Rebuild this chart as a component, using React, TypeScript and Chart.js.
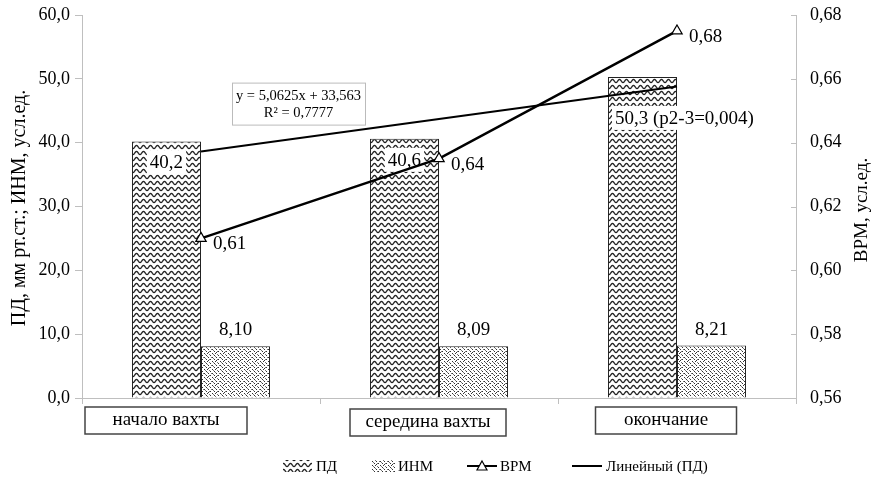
import React, { useEffect, useRef } from 'react';
import { Chart, registerables } from 'chart.js';
Chart.register(...registerables);

const categories = ['начало вахты', 'середина вахты', 'окончание'];
const pdValues = [40.2, 40.6, 50.3];
const inmValues = [8.1, 8.09, 8.21];
const vrmValues = [0.61, 0.635, 0.675];
const trendValues = [38.6, 43.7, 48.8];
const pdLabels = ['40,2', '40,6', '50,3 (p2-3=0,004)'];
const inmLabels = ['8,10', '8,09', '8,21'];
const vrmLabels = ['0,61', '0,64', '0,68'];
const trendEquation = ['y = 5,0625x + 33,563', 'R² = 0,7777'];
const legendNames = ['ПД', 'ИНМ', 'ВРМ', 'Линейный (ПД)'];
const leftTitle = 'ПД, мм рт.ст.; ИНМ, усл.ед.';
const rightTitle = 'ВРМ, усл.ед.';

const FONT = '"Liberation Serif", serif';
const BASE = 15;

function makeWave(): CanvasPattern | string {
  const c = document.createElement('canvas');
  c.width = 7; c.height = 6;
  const g = c.getContext('2d');
  if (!g) return '#888';
  g.fillStyle = '#fff';
  g.fillRect(0, 0, 7, 6);
  g.strokeStyle = '#222';
  g.lineWidth = 1.3;
  g.beginPath();
  for (let x = -1; x <= 8; x += 0.5) {
    const y = 3 + 1.6 * Math.cos((2 * Math.PI * x) / 7);
    if (x === -1) g.moveTo(x, y); else g.lineTo(x, y);
  }
  g.stroke();
  return g.createPattern(c, 'repeat') || '#888';
}

function makeDots(): CanvasPattern | string {
  const c = document.createElement('canvas');
  c.width = 8; c.height = 8;
  const g = c.getContext('2d');
  if (!g) return '#ccc';
  g.fillStyle = '#fff';
  g.fillRect(0, 0, 8, 8);
  g.fillStyle = '#333';
  const pts = [[0, 0], [4, 1], [2, 3], [6, 3], [0, 5], [4, 5], [2, 7], [6, 7], [7, 1]];
  pts.forEach(([x, y]) => g.fillRect(x, y, 1, 1));
  g.fillStyle = '#777';
  [[1, 2], [5, 6], [3, 5], [7, 4], [1, 7], [5, 2]].forEach(([x, y]) => g.fillRect(x, y, 1, 1));
  return g.createPattern(c, 'repeat') || '#ccc';
}

// draws serif text at any size by scaling a base-size font
function txt(ctx: CanvasRenderingContext2D, text: string, x: number, y: number, size: number,
  align: CanvasTextAlign = 'left', rot = 0) {
  ctx.save();
  ctx.translate(x, y);
  if (rot) ctx.rotate(rot);
  const k = size / BASE;
  ctx.scale(k, k);
  ctx.font = `${BASE}px ${FONT}`;
  ctx.textAlign = align;
  ctx.textBaseline = 'middle';
  ctx.fillStyle = '#000';
  ctx.fillText(text, 0, 0);
  ctx.restore();
}
function txtWidth(ctx: CanvasRenderingContext2D, text: string, size: number) {
  ctx.save();
  ctx.font = `${BASE}px ${FONT}`;
  const w = ctx.measureText(text).width * size / BASE;
  ctx.restore();
  return w;
}

export default function App() {
  const ref = useRef<HTMLCanvasElement | null>(null);

  useEffect(() => {
    document.body.style.margin = '0';
    const canvas = ref.current;
    if (!canvas) return;
    const wave = makeWave();
    const dots = makeDots();

    const whiteLabel = (ctx: CanvasRenderingContext2D, text: string, x: number, y: number, align: CanvasTextAlign) => {
      const w = txtWidth(ctx, text, 19);
      const left = align === 'center' ? x - w / 2 : x;
      ctx.fillStyle = '#fff';
      ctx.fillRect(left - 3, y - 12, w + 6, 24);
      txt(ctx, text, x, y + 1, 19, align);
    };

    const plugin = {
      id: 'custom',
      afterDatasetDraw(chart: any, args: any) {
        if (args.index !== 0) return;
        const ctx: CanvasRenderingContext2D = chart.ctx;
        const pd = chart.getDatasetMeta(0).data;
        pd.forEach((bar: any, i: number) => {
          if (i < 2) whiteLabel(ctx, pdLabels[i], bar.x, bar.y + 21, 'center');
          else whiteLabel(ctx, pdLabels[i], bar.x - bar.width / 2 + 7, bar.y + 41, 'left');
        });
        const inm = chart.getDatasetMeta(1).data;
        inm.forEach((bar: any, i: number) => {
          txt(ctx, inmLabels[i], bar.x, bar.y - 16, 19, 'center');
        });
      },
      afterDatasetsDraw(chart: any) {
        const ctx: CanvasRenderingContext2D = chart.ctx;
        const vrm = chart.getDatasetMeta(2).data;
        vrm.forEach((pt: any, i: number) => {
          txt(ctx, vrmLabels[i], pt.x + 12, pt.y + 6, 19, 'left');
        });
        const t0 = chart.getDatasetMeta(3).data[0];
        const bx = t0.x + 31, by = t0.y - 69, bw = 133, bh = 42;
        ctx.save();
        ctx.fillStyle = '#fff';
        ctx.fillRect(bx, by, bw, bh);
        ctx.strokeStyle = '#bbb';
        ctx.lineWidth = 1;
        ctx.strokeRect(bx + 0.5, by + 0.5, bw, bh);
        ctx.restore();
        txt(ctx, trendEquation[0], bx + bw / 2, by + 14, 14.5, 'center');
        txt(ctx, trendEquation[1], bx + bw / 2, by + 31, 14.5, 'center');
      },
      afterDraw(chart: any) {
        const ctx: CanvasRenderingContext2D = chart.ctx;
        const ca = chart.chartArea;
        const xs = chart.scales.x;
        const yl = chart.scales.y;
        const yr = chart.scales.y1;
        ctx.save();
        ctx.strokeStyle = '#bfbfbf';
        ctx.lineWidth = 1;
        yr.ticks.forEach((t: any) => {
          const y = Math.round(yr.getPixelForValue(t.value)) + 0.5;
          ctx.beginPath();
          ctx.moveTo(ca.right - 5, y);
          ctx.lineTo(ca.right, y);
          ctx.stroke();
        });
        ctx.restore();
        // tick labels
        yl.ticks.forEach((t: any) => {
          txt(ctx, Number(t.value).toFixed(1).replace('.', ','), ca.left - 12, yl.getPixelForValue(t.value), 18, 'right');
        });
        yr.ticks.forEach((t: any) => {
          txt(ctx, Number(t.value).toFixed(2).replace('.', ','), ca.right + 14, yr.getPixelForValue(t.value), 18, 'left');
        });
        // category boxes
        const geo = [{ dx: -35, w: 162, top: 407 }, { dx: -11, w: 156, top: 409 }, { dx: -11, w: 141, top: 407 }];
        categories.forEach((c, i) => {
          const cx = xs.getPixelForValue(i) + geo[i].dx;
          const top = geo[i].top;
          ctx.save();
          ctx.fillStyle = '#fff';
          ctx.fillRect(cx - geo[i].w / 2, top, geo[i].w, 27);
          ctx.strokeStyle = '#444';
          ctx.lineWidth = 1.5;
          ctx.strokeRect(cx - geo[i].w / 2, top, geo[i].w, 27);
          ctx.restore();
          txt(ctx, c, cx, top + 13, 19, 'center');
        });
        // axis titles
        txt(ctx, leftTitle, 20, 208, 20, 'center', -Math.PI / 2);
        txt(ctx, rightTitle, 862, 210, 19, 'center', -Math.PI / 2);
        // legend
        const ly = 466;
        ctx.save();
        ctx.fillStyle = wave as any;
        ctx.fillRect(283, ly - 6, 29, 12);
        ctx.fillStyle = dots as any;
        ctx.fillRect(372, ly - 6, 23, 12);
        ctx.strokeStyle = '#000';
        ctx.lineWidth = 2;
        ctx.beginPath();
        ctx.moveTo(467, ly);
        ctx.lineTo(497, ly);
        ctx.stroke();
        ctx.beginPath();
        ctx.moveTo(482, ly - 5);
        ctx.lineTo(487, ly + 4);
        ctx.lineTo(477, ly + 4);
        ctx.closePath();
        ctx.fillStyle = '#fff';
        ctx.fill();
        ctx.lineWidth = 1.2;
        ctx.stroke();
        ctx.lineWidth = 2;
        ctx.beginPath();
        ctx.moveTo(572, ly);
        ctx.lineTo(602, ly);
        ctx.stroke();
        ctx.restore();
        txt(ctx, legendNames[0], 316, ly + 1, 15);
        txt(ctx, legendNames[1], 398, ly + 1, 15);
        txt(ctx, legendNames[2], 500, ly + 1, 15);
        txt(ctx, legendNames[3], 606, ly + 1, 15);
      },
    };

    const chart = new Chart(canvas, {
      type: 'bar',
      data: {
        labels: categories,
        datasets: [
          {
            type: 'bar', label: legendNames[0], data: pdValues, yAxisID: 'y',
            backgroundColor: wave as any, borderColor: '#222', borderWidth: 1, order: 3,
            categoryPercentage: 0.58, barPercentage: 1.0,
          },
          {
            type: 'bar', label: legendNames[1], data: inmValues, yAxisID: 'y',
            backgroundColor: dots as any, borderColor: '#222', borderWidth: 1, order: 3,
            categoryPercentage: 0.58, barPercentage: 1.0,
          },
          {
            type: 'line', label: legendNames[2], data: vrmValues, yAxisID: 'y1',
            borderColor: '#000', borderWidth: 2.5, pointStyle: 'triangle', pointRadius: 6,
            pointBackgroundColor: '#fff', pointBorderColor: '#000', pointBorderWidth: 1.2, order: 0,
          },
          {
            type: 'line', label: legendNames[3], data: trendValues, yAxisID: 'y',
            borderColor: '#000', borderWidth: 2, pointRadius: 0, order: 1,
          },
        ] as any,
      },
      plugins: [plugin as any],
      options: {
        responsive: false,
        animation: false,
        layout: { padding: { top: 15, left: 0, right: 0, bottom: 0 } },
        plugins: { legend: { display: false }, tooltip: { enabled: false } },
        scales: {
          x: {
            offset: true,
            grid: { display: true, drawOnChartArea: false, tickLength: 6, color: '#bfbfbf', offset: true },
            border: { display: true, color: '#bfbfbf' },
            ticks: { display: false },
            afterFit: (s: any) => { s.height = 89; },
          },
          y: {
            position: 'left', min: 0, max: 60,
            grid: { drawOnChartArea: false, tickLength: 7, color: '#bfbfbf' },
            border: { color: '#bfbfbf' },
            ticks: { display: false, stepSize: 10 },
            afterFit: (s: any) => { s.width = 82; },
          },
          y1: {
            position: 'right', min: 0.56, max: 0.68,
            grid: { drawOnChartArea: false, drawTicks: false, color: '#bfbfbf' },
            border: { color: '#bfbfbf' },
            ticks: { display: false, stepSize: 0.02 },
            afterFit: (s: any) => { s.width = 77; },
          },
        },
      } as any,
    });
    return () => chart.destroy();
  }, []);

  return (
    <div style={{ position: 'absolute', left: 0, top: 0, width: 873, height: 487, background: '#fff' }}>
      <canvas ref={ref} width={873} height={487} />
    </div>
  );
}
